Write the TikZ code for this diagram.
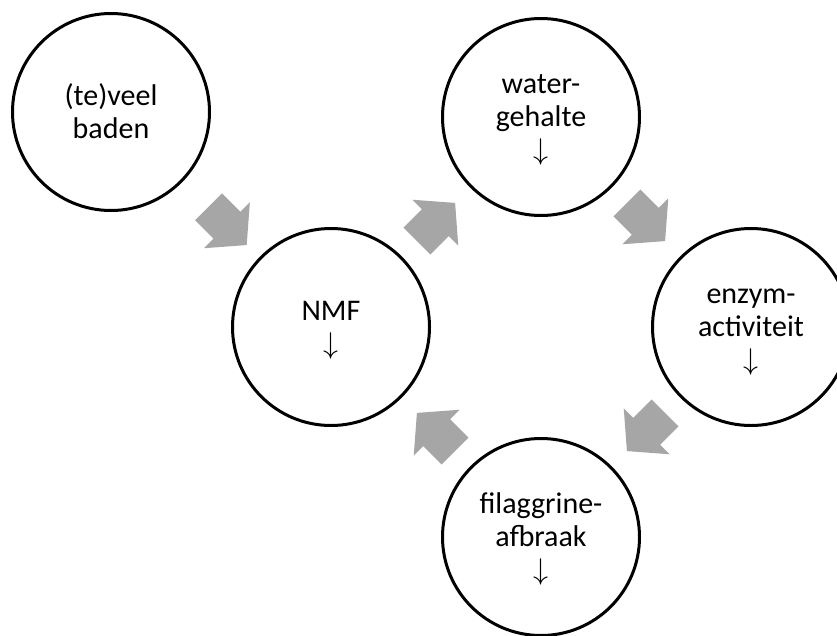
\documentclass[tikz,border=0pt]{standalone}
\usepackage{fix-cm}
\usepackage{fontspec}
\setmainfont{Carlito}
\usetikzlibrary{calc}
\definecolor{arrowgray}{RGB}{166,166,166}
\newcommand\ls{\rule[-7pt]{0pt}{33pt}}
\tikzset{
  circ/.style={circle, draw=black, line width=3pt, minimum size=197pt, inner sep=0pt,
    align=center, font={\fontsize{30}{33}\selectfont\lineskiplimit=-20pt}},
  blockarrow/.style={fill=arrowgray}
}
\newcommand\barrow[2]{\fill[blockarrow, shift={(#1)}, rotate=#2]
  (-27,-19) -- (-1,-19) -- (-1,-32.5) -- (27,0) -- (-1,32.5) -- (-1,19) -- (-27,19) -- cycle;}
\begin{document}
\begin{tikzpicture}[x=1pt, y=-1pt]
  \useasboundingbox (0,0) rectangle (837,635);
  \clip (0,0) rectangle (837,635);
  \node[circ] (c1)    at (111,112) {\ls(te)veel\\\ls baden};
  \node[circ] (nmf)   at (331,327) {\ls NMF\\\ls$\downarrow$};
  \node[circ] (water) at (541,117) {\ls water-\\\ls gehalte\\\ls$\downarrow$};
  \node[circ] (enzym) at (751,327) {\ls enzym-\\\ls activiteit\\\ls$\downarrow$};
  \node[circ] (fil)   at (541,537) {\ls filaggrine-\\\ls afbraak\\\ls$\downarrow$};
  \coordinate (m1) at ($(c1)!0.53!(nmf)$);
  \coordinate (m2) at ($(nmf)!0.5!(water)$);
  \coordinate (m3) at ($(water)!0.5!(enzym)$);
  \coordinate (m4) at ($(enzym)!0.5!(fil)$);
  \coordinate (m5) at ($(fil)!0.5!(nmf)$);
  \barrow{m1}{-45}
  \barrow{m2}{45}
  \barrow{m3}{-45}
  \barrow{m4}{-135}
  \barrow{m5}{135}
\end{tikzpicture}
\end{document}
